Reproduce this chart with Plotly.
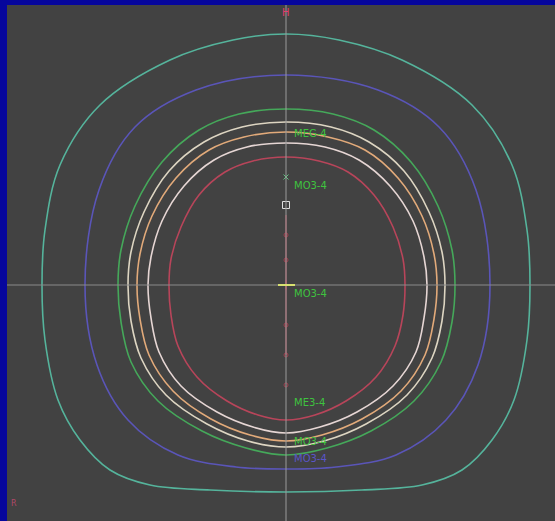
import plotly.graph_objects as go

# Isodose contours (x, y) relative to isocenter, clockwise from top
teal_x = [0, 53, 116, 186, 226, 241, 244, 241, 228, 206, 176, 136, 76, 0, -76, -136, -176, -206, -228, -241, -244, -241, -226, -186, -116, -53]
teal_y = [251, 245, 225, 180, 120, 55, 0, -55, -115, -155, -185, -200, -205, -207, -205, -200, -185, -155, -115, -55, 0, 55, 120, 180, 225, 245]

blue_x = [0, 92, 153, 190, 204, 192, 160, 110, 50, 0, -50, -108, -158, -189, -201, -187, -151, -90]
blue_y = [210, 195, 158, 95, 0, -80, -135, -170, -182, -184, -182, -170, -135, -80, 0, 95, 158, 195]

green_x = [0, 47, 88, 125, 152, 166, 169, 166, 155, 128, 85, 41, 0, -40, -84, -128, -155, -165, -168, -165, -151, -124, -87, -47]
green_y = [176, 171, 155, 123, 79, 35, 0, -37, -77, -116, -146, -163, -170, -163, -146, -116, -77, -37, 0, 35, 79, 123, 155, 171]

beige_x = [0, 45, 83, 118, 143, 156, 159, 156, 146, 121, 80, 38, 0, -38, -79, -120, -145, -155, -158, -155, -142, -117, -82, -44]
beige_y = [163, 158, 143, 114, 73, 33, 0, -36, -73, -110, -139, -156, -162, -156, -139, -110, -73, -36, 0, 33, 73, 114, 143, 158]

orange_x = [0, 42, 79, 112, 136, 148, 151, 148, 139, 115, 76, 36, 0, -36, -75, -113, -137, -146, -149, -146, -134, -110, -77, -42]
orange_y = [153, 148, 135, 107, 69, 31, 0, -34, -70, -106, -134, -150, -156, -150, -134, -106, -70, -34, 0, 31, 69, 107, 135, 148]

pink_x = [0, 39, 73, 104, 127, 138, 141, 138, 130, 107, 71, 34, 0, -33, -69, -105, -127, -135, -138, -135, -124, -102, -72, -39]
pink_y = [142, 138, 125, 99, 64, 28, 0, -33, -67, -101, -127, -142, -148, -142, -127, -101, -67, -33, 0, 28, 64, 99, 125, 138]

red_x = [0, 33, 62, 88, 107, 117, 119, 117, 109, 90, 60, 29, 0, -28, -59, -89, -108, -115, -117, -115, -105, -87, -61, -33]
red_y = [128, 124, 113, 90, 58, 26, 0, -30, -61, -92, -116, -130, -135, -130, -116, -92, -61, -30, 0, 26, 58, 90, 113, 124]

contours = [
    ("teal", teal_x, teal_y, "#55b49c"),
    ("blue", blue_x, blue_y, "#5a55b8"),
    ("green", green_x, green_y, "#45a85a"),
    ("beige", beige_x, beige_y, "#ddd5c2"),
    ("orange", orange_x, orange_y, "#e2aa7a"),
    ("pink", pink_x, pink_y, "#e6d6d4"),
    ("red", red_x, red_y, "#b8455a"),
]

# Point labels
label_text = ["MEG-4", "MO3-4", "MO3-4", "ME3-4", "MO3-4", "MO3-4"]
label_x = [6, 6, 6, 6, 6, 6]
label_y = [152, 100, -8, -117, -156, -173]
label_color = ["#3fc23f", "#3fc23f", "#3fc23f", "#3fc23f", "#3fc23f", "#5a55c8"]

# Markers along the central axis
dot_y = [50, 25, -40, -70, -100]
square_y = [80]
cross_y = [108]

X_RANGE = [-279, 269]
Y_RANGE = [-236, 280]

fig = go.Figure()

for name, xs, ys, col in contours:
    fig.add_trace(go.Scatter(
        x=xs + [xs[0]], y=ys + [ys[0]], mode="lines",
        line=dict(color=col, width=1.6, shape="spline", smoothing=1.0),
        hoverinfo="skip", showlegend=False, name=name))

# crosshair
fig.add_shape(type="line", x0=0, x1=0, y0=Y_RANGE[0], y1=Y_RANGE[1],
              line=dict(color="#9a9a9a", width=1))
fig.add_shape(type="line", x0=X_RANGE[0], x1=X_RANGE[1], y0=0, y1=0,
              line=dict(color="#8a8a8a", width=1))
fig.add_shape(type="line", x0=0, x1=0, y0=-70, y1=70,
              line=dict(color="#b0707a", width=1))
fig.add_shape(type="line", x0=-8, x1=9, y0=0, y1=0,
              line=dict(color="#d8e070", width=2))

fig.add_trace(go.Scatter(x=[0] * len(dot_y), y=dot_y, mode="markers",
                         marker=dict(symbol="circle-open", size=4, color="#a04050"),
                         hoverinfo="skip", showlegend=False))
fig.add_trace(go.Scatter(x=[0], y=square_y, mode="markers",
                         marker=dict(symbol="square-open", size=7, color="#e0e0e0",
                                     line=dict(width=1)),
                         hoverinfo="skip", showlegend=False))
fig.add_trace(go.Scatter(x=[0], y=cross_y, mode="markers",
                         marker=dict(symbol="x-thin-open", size=5, color="#60c080",
                                     line=dict(width=1, color="#60c080")),
                         hoverinfo="skip", showlegend=False))
fig.add_trace(go.Scatter(x=[0], y=[0], mode="markers",
                         marker=dict(symbol="cross-thin-open", size=7, color="#d04040",
                                     line=dict(width=1, color="#d04040")),
                         hoverinfo="skip", showlegend=False))

for t, x, y, c in zip(label_text, label_x, label_y, label_color):
    fig.add_annotation(x=x, y=y, text=t, showarrow=False, xanchor="left", yanchor="middle",
                       font=dict(family="DejaVu Sans", size=10, color=c))

# orientation markers
fig.add_annotation(x=0, y=Y_RANGE[1], text="H", showarrow=False, yanchor="top", xanchor="center",
                   font=dict(family="DejaVu Sans", size=10, color="#e04070"))
fig.add_annotation(x=X_RANGE[0] + 2, y=-218, text="R", showarrow=False, xanchor="left",
                   font=dict(family="DejaVu Sans", size=8, color="#b04868"))

fig.update_xaxes(range=X_RANGE, visible=False, showgrid=False, zeroline=False, fixedrange=True)
fig.update_yaxes(range=Y_RANGE, visible=False, showgrid=False, zeroline=False, fixedrange=True)
fig.update_layout(width=555, height=521, margin=dict(l=7, r=0, t=5, b=0, pad=0),
                  paper_bgcolor="#06069c", plot_bgcolor="#424242", showlegend=False)

fig.write_html("out.html")
